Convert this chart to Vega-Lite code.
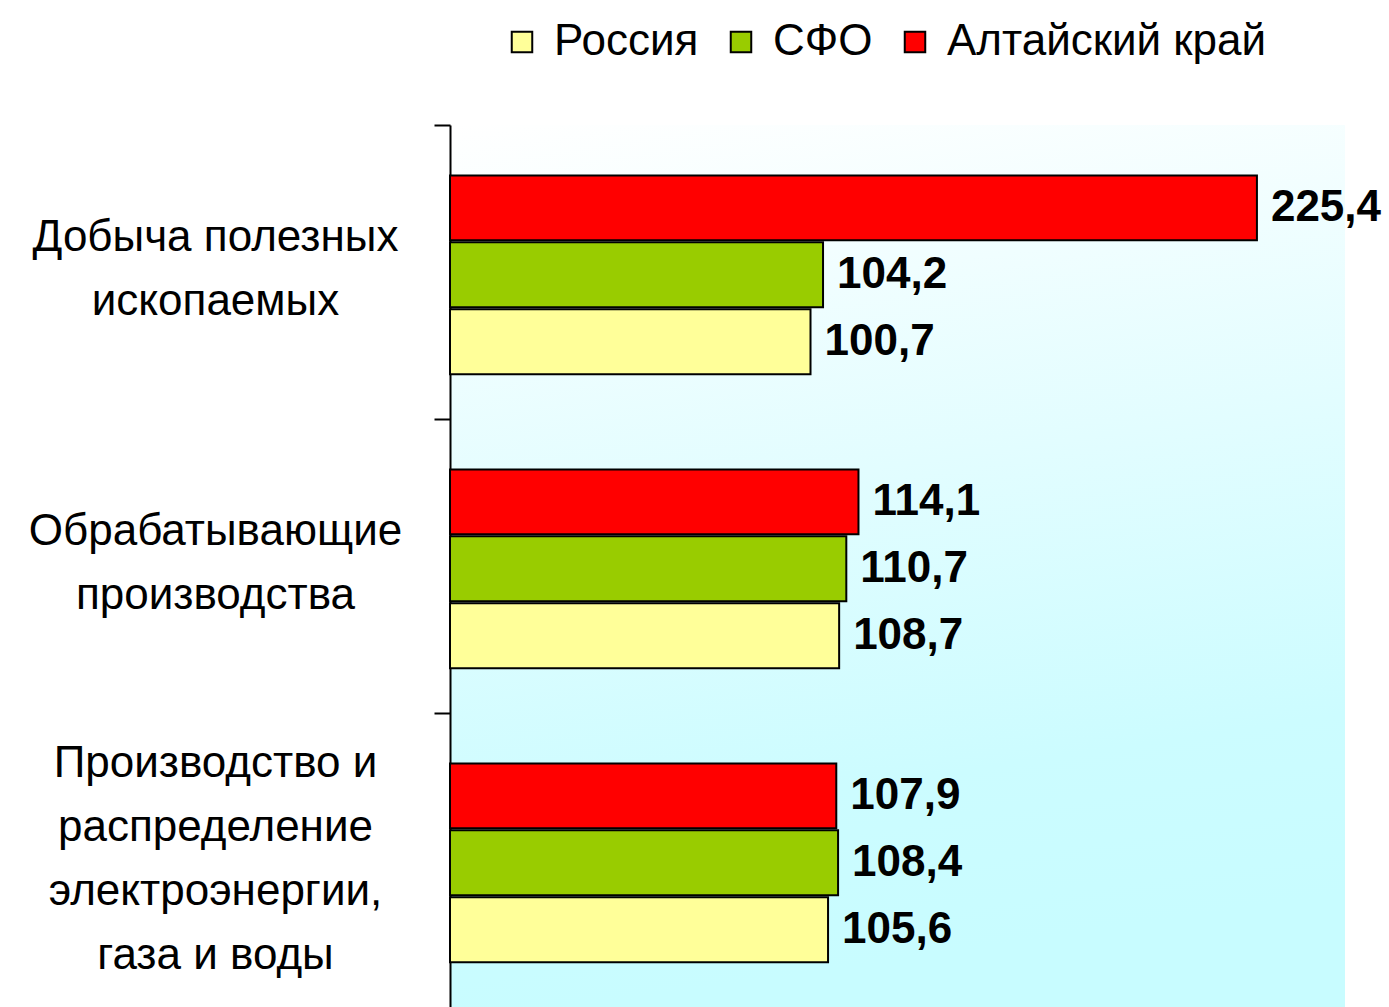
{
  "$schema": "https://vega.github.io/schema/vega-lite/v6.json",
  "autosize": "none",
  "padding": {"left": 450, "top": 125, "right": 44, "bottom": 0},
  "width": 895,
  "height": 882,
  "background": "white",
  "view": {
    "stroke": null,
    "fill": {
      "gradient": "linear",
      "x1": 0, "y1": 0, "x2": 0.15, "y2": 1,
      "stops": [
        {"offset": 0, "color": "#ffffff"},
        {"offset": 0.45, "color": "#e2fdff"},
        {"offset": 0.8, "color": "#ccfcff"},
        {"offset": 1, "color": "#c8fcff"}
      ]
    }
  },
  "data": {
    "values": [
      {"cat": "Добыча полезных|ископаемых", "region": "Россия", "value": 100.7},
      {"cat": "Добыча полезных|ископаемых", "region": "СФО", "value": 104.2},
      {"cat": "Добыча полезных|ископаемых", "region": "Алтайский край", "value": 225.4},
      {"cat": "Обрабатывающие|производства", "region": "Россия", "value": 108.7},
      {"cat": "Обрабатывающие|производства", "region": "СФО", "value": 110.7},
      {"cat": "Обрабатывающие|производства", "region": "Алтайский край", "value": 114.1},
      {"cat": "Производство и|распределение|электроэнергии,|газа и воды", "region": "Россия", "value": 105.6},
      {"cat": "Производство и|распределение|электроэнергии,|газа и воды", "region": "СФО", "value": 108.4},
      {"cat": "Производство и|распределение|электроэнергии,|газа и воды", "region": "Алтайский край", "value": 107.9}
    ]
  },
  "encoding": {
    "y": {
      "field": "cat",
      "type": "nominal",
      "sort": null,
      "scale": {"paddingInner": 0, "paddingOuter": 0},
      "title": null,
      "axis": {
        "bandPosition": 0,
        "domainColor": "#000000",
        "domainWidth": 2,
        "tickColor": "#000000",
        "tickWidth": 2,
        "tickSize": 16,
        "labelPadding": 219,
        "labelAlign": "center",
        "labelBaseline": "middle",
        "labelFont": "Liberation Sans",
        "labelFontSize": 44,
        "labelLineHeight": 64,
        "labelColor": "#000000",
        "labelLimit": 0,
        "labelOffset": {"condition": {"test": "indexof(datum.value, 'газа') >= 0", "value": -96}, "value": -34},
        "labelExpr": "split(datum.label, '|')"
      }
    },
    "yOffset": {
      "field": "region",
      "type": "nominal",
      "sort": ["Алтайский край", "СФО", "Россия"],
      "scale": {"paddingInner": 0.03, "paddingOuter": 0.71, "align": 0.53}
    },
    "x": {
      "field": "value",
      "type": "quantitative",
      "scale": {"domain": [0, 250], "nice": false, "zero": true},
      "axis": null
    }
  },
  "layer": [
    {
      "mark": {"type": "bar", "stroke": "#000000", "strokeWidth": 2},
      "encoding": {
        "color": {
          "field": "region",
          "type": "nominal",
          "scale": {
            "domain": ["Россия", "СФО", "Алтайский край"],
            "range": ["#ffff99", "#99cc00", "#ff0000"]
          },
          "legend": {
            "orient": "none",
            "legendX": 50,
            "legendY": -105,
            "direction": "horizontal",
            "title": null,
            "symbolType": "square",
            "symbolSize": 420,
            "symbolStrokeColor": "#000000",
            "symbolStrokeWidth": 2,
            "labelFont": "Liberation Sans",
            "labelFontSize": 44,
            "labelColor": "#000000",
            "labelOffset": 10,
            "columnPadding": 20,
            "labelLimit": 0
          }
        }
      }
    },
    {
      "mark": {
        "type": "text",
        "align": "left",
        "baseline": "middle",
        "dx": 14,
        "font": "Liberation Sans",
        "fontWeight": "bold",
        "fontSize": 44,
        "color": "#000000"
      },
      "encoding": {
        "text": {"field": "value", "type": "quantitative", "format": ".1f"}
      }
    }
  ],
  "config": {
    "locale": {
      "number": {"decimal": ",", "thousands": " ", "grouping": [3], "currency": ["", ""]}
    }
  }
}
